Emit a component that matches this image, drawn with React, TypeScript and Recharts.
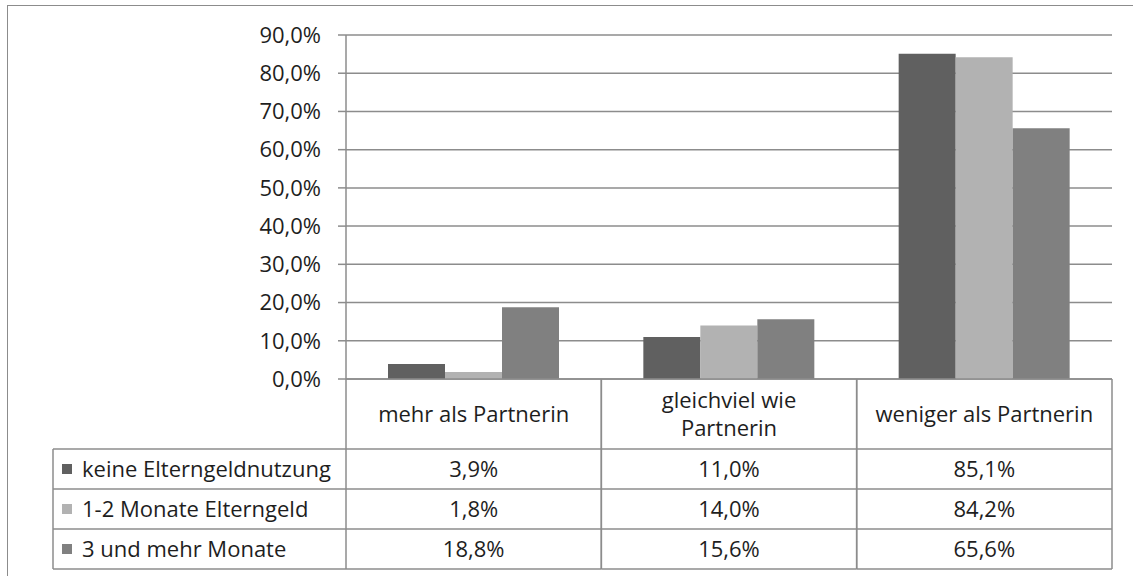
import React from "react";
import { BarChart, Bar, XAxis, YAxis, CartesianGrid } from "recharts";

// categories and series (values in %)
const categories = ["mehr als Partnerin", "gleichviel wie Partnerin", "weniger als Partnerin"];
const seriesNames = ["keine Elterngeldnutzung", "1-2 Monate Elterngeld", "3 und mehr Monate"];
const keineNutzung = [3.9, 11.0, 85.1];
const einsBisZwei = [1.8, 14.0, 84.2];
const dreiUndMehr = [18.8, 15.6, 65.6];
const yTicks = [0, 10, 20, 30, 40, 50, 60, 70, 80, 90];

const seriesValues = [keineNutzung, einsBisZwei, dreiUndMehr];
const seriesKeys = ["s0", "s1", "s2"];
const colors = ["#606060", "#b2b2b2", "#808080"];

const data = categories.map((cat, i) => ({
  cat,
  s0: keineNutzung[i],
  s1: einsBisZwei[i],
  s2: dreiUndMehr[i],
}));

const W = 1133;
const H = 576;
const PLOT_LEFT = 346;
const PLOT_RIGHT = 1112;
const PLOT_TOP = 35;
const PLOT_BOTTOM = 379;
const HEADER_H = 70;
const ROW_H = 40;
const TABLE_LEFT = 53;
const LINE = "#8c8c8c";
const TEXT = "#1e1e1e";
const FONT = "'Open Sans', 'Noto Sans', sans-serif";
const FS = 22;
const LINE_H = 28;

const fmt = (v: number) => v.toFixed(1).replace(".", ",") + "%";

let ctx: CanvasRenderingContext2D | null = null;
const measure = (s: string) => {
  if (!ctx) {
    ctx = document.createElement("canvas").getContext("2d");
    if (ctx) ctx.font = `${FS}px ${FONT}`;
  }
  return ctx ? ctx.measureText(s).width : s.length * FS * 0.55;
};

// simple word wrap for the header cells
const wrap = (label: string, maxW: number) => {
  const words = label.split(" ");
  const lines: string[] = [];
  let cur = "";
  words.forEach((w) => {
    const next = cur ? cur + " " + w : w;
    if (cur && measure(next) > maxW) {
      lines.push(cur);
      cur = w;
    } else {
      cur = next;
    }
  });
  if (cur) lines.push(cur);
  return lines;
};

const TableTick = (props: any) => {
  const { x, index, payload } = props;
  const band = (PLOT_RIGHT - PLOT_LEFT) / categories.length;
  const left = x - band / 2;
  const right = x + band / 2;
  const top = PLOT_BOTTOM;
  const bottom = top + HEADER_H + ROW_H * seriesNames.length;
  const rowY = (r: number) => top + HEADER_H + r * ROW_H;
  const lines = wrap(String(payload.value), band - 28);
  const firstY = top + HEADER_H / 2 - ((lines.length - 1) * LINE_H) / 2;

  return (
    <g>
      <line x1={left} x2={left} y1={top} y2={bottom} stroke={LINE} strokeWidth={1.5} />
      <line x1={right} x2={right} y1={top} y2={bottom} stroke={LINE} strokeWidth={1.5} />
      {seriesNames.map((_, r) => (
        <line key={r} x1={left} x2={right} y1={rowY(r)} y2={rowY(r)} stroke={LINE} strokeWidth={1.5} />
      ))}
      <line x1={left} x2={right} y1={bottom} y2={bottom} stroke={LINE} strokeWidth={1.5} />
      {lines.map((ln, i) => (
        <text
          key={i}
          x={x}
          y={firstY + i * LINE_H}
          dy="0.36em"
          textAnchor="middle"
          fontSize={FS}
          fontFamily={FONT}
          fill={TEXT}
        >
          {ln}
        </text>
      ))}
      {seriesValues.map((vals, r) => (
        <text
          key={r}
          x={x}
          y={rowY(r) + ROW_H / 2}
          dy="0.36em"
          textAnchor="middle"
          fontSize={FS}
          fontFamily={FONT}
          fill={TEXT}
        >
          {fmt(vals[index])}
        </text>
      ))}
      {index === 0 && (
        <g>
          {seriesNames.map((name, r) => (
            <g key={name}>
              <line x1={TABLE_LEFT} x2={left} y1={rowY(r)} y2={rowY(r)} stroke={LINE} strokeWidth={1.5} />
              <rect x={62} y={rowY(r) + ROW_H / 2 - 5} width={10} height={10} fill={colors[r]} />
              <text
                x={82}
                y={rowY(r) + ROW_H / 2}
                dy="0.36em"
                fontSize={FS}
                fontFamily={FONT}
                fill={TEXT}
              >
                {name}
              </text>
            </g>
          ))}
          <line x1={TABLE_LEFT} x2={left} y1={bottom} y2={bottom} stroke={LINE} strokeWidth={1.5} />
          <line x1={TABLE_LEFT} x2={TABLE_LEFT} y1={rowY(0)} y2={bottom} stroke={LINE} strokeWidth={1.5} />
        </g>
      )}
    </g>
  );
};

export default function App() {
  return (
    <div style={{ position: "fixed", left: 0, top: 0, width: W, height: H, overflow: "hidden", background: "#fff" }}>
      <div
        style={{
          position: "absolute",
          left: 7,
          top: 5,
          width: W,
          height: H,
          borderLeft: `1.5px solid ${LINE}`,
          borderTop: `1.5px solid ${LINE}`,
        }}
      />
      <div style={{ position: "absolute", left: 0, top: 0 }}>
        <BarChart
          width={W}
          height={H}
          data={data}
          margin={{ top: PLOT_TOP, right: W - PLOT_RIGHT, bottom: 0, left: 0 }}
          barCategoryGap={42}
          barGap={0}
        >
          <CartesianGrid vertical={false} stroke={LINE} strokeWidth={1.5} />
          <XAxis
            dataKey="cat"
            height={H - PLOT_BOTTOM}
            interval={0}
            tickLine={false}
            axisLine={{ stroke: LINE, strokeWidth: 1.5 }}
            tick={<TableTick />}
          />
          <YAxis
            width={PLOT_LEFT}
            domain={[0, 90]}
            ticks={yTicks}
            tickFormatter={fmt}
            tickSize={8}
            tickMargin={17}
            axisLine={{ stroke: LINE, strokeWidth: 1.5 }}
            tickLine={{ stroke: LINE, strokeWidth: 1.5 }}
            tick={{ fontSize: FS, fontFamily: FONT, fill: TEXT }}
          />
          {seriesKeys.map((k, i) => (
            <Bar key={k} dataKey={k} name={seriesNames[i]} fill={colors[i]} isAnimationActive={false} />
          ))}
        </BarChart>
      </div>
    </div>
  );
}
